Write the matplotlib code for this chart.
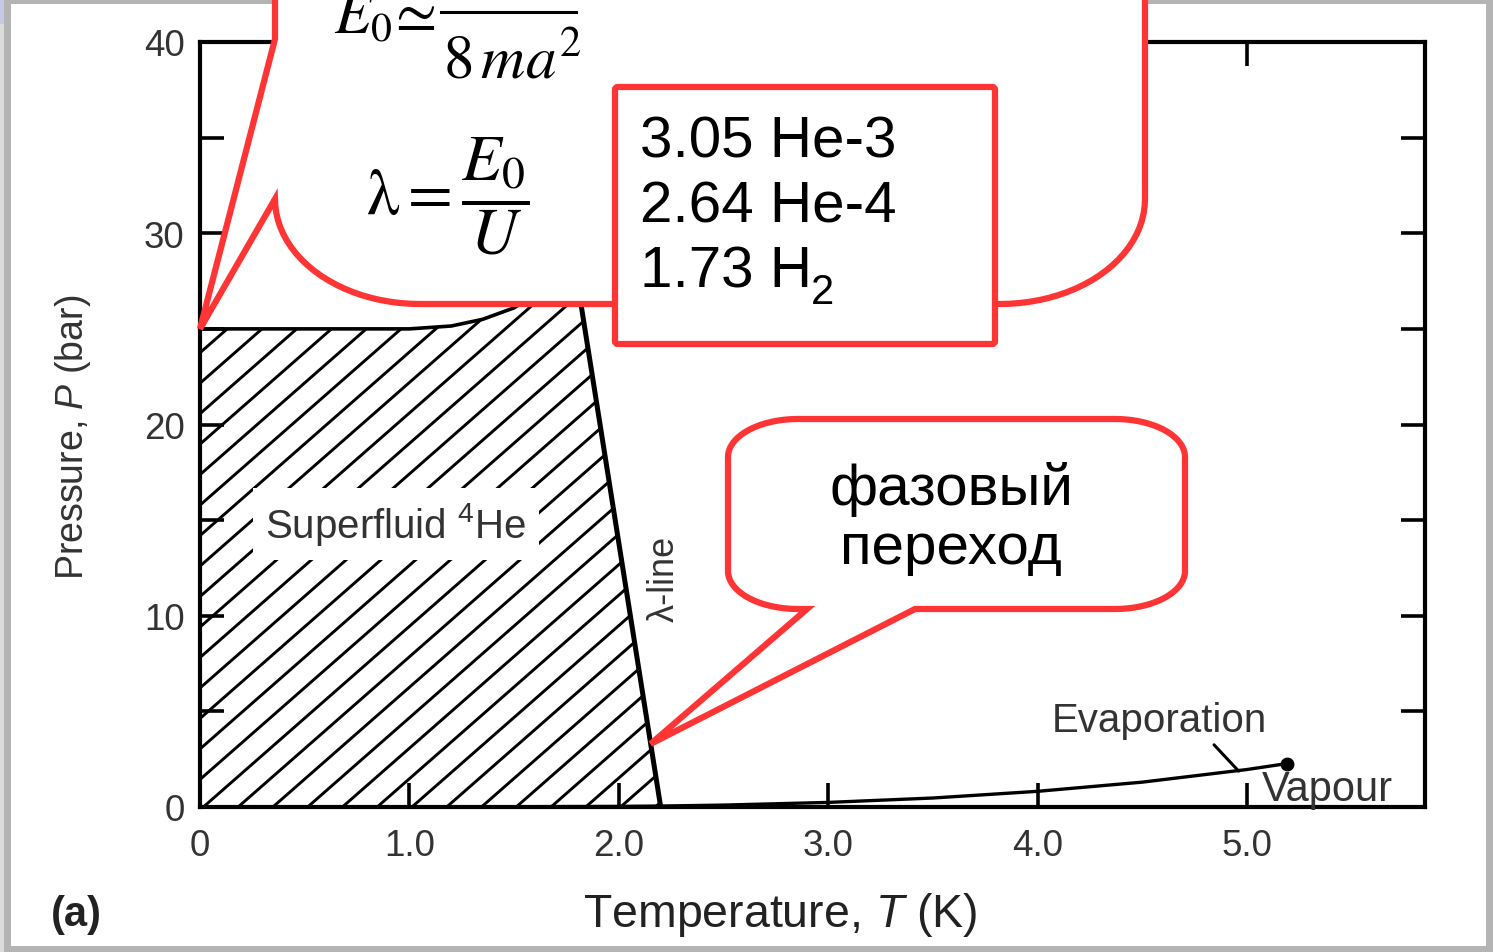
import numpy as np
import matplotlib
matplotlib.use("Agg")
import matplotlib.pyplot as plt
import matplotlib.transforms as mtransforms
from matplotlib.path import Path
from matplotlib.lines import Line2D
from matplotlib.patches import PathPatch, Polygon, Rectangle, FancyBboxPatch
from matplotlib.collections import LineCollection

plt.rcParams['font.family'] = ['Liberation Sans', 'DejaVu Sans']
plt.rcParams['mathtext.fontset'] = 'custom'
plt.rcParams['mathtext.rm'] = 'Liberation Sans'
plt.rcParams['mathtext.it'] = 'Liberation Sans:italic'
plt.rcParams['mathtext.bf'] = 'Liberation Sans:bold'

# phase boundaries of 4He (T in K, P in bar)
melt_T = np.array([0.0, 0.5, 1.0, 1.2, 1.35, 1.5, 1.6, 1.7, 1.77])
melt_P = np.array([25.0, 25.0, 25.0, 25.15, 25.5, 26.1, 26.8, 28.0, 29.7])
lambda_T = np.array([2.20, 1.77])
lambda_P = np.array([0.0, 29.7])
svp_T = np.array([0.0, 1.0, 2.0, 2.2, 2.5, 3.0, 3.5, 4.0, 4.5, 5.0, 5.19])
svp_P = np.array([0.0, 0.0, 0.03, 0.05, 0.1, 0.24, 0.47, 0.82, 1.3, 1.96, 2.27])
crit_T, crit_P = 5.19, 2.27

x_ticks = [0, 1, 2, 3, 4, 5]
x_ticklabels = ['0', '1.0', '2.0', '3.0', '4.0', '5.0']
y_ticks = [0, 5, 10, 15, 20, 25, 30, 35, 40]
y_ticklabels = ['0', '', '10', '', '20', '', '30', '', '40']

lambda_ratios = ['3.05 He-3', '2.64 He-4', '1.73 H']

RED = '#ff3535'
W, H = 1493, 953
fig = plt.figure(figsize=(W / 100, H / 100), dpi=100)
# pixel coordinates, origin top-left
px = mtransforms.Affine2D().scale(1 / W, -1 / H).translate(0, 1) + fig.transFigure

ax = fig.add_axes([200 / W, 1 - 808 / H, 1225 / W, 765 / H])
ax.set_xlim(0, 5.85)
ax.set_ylim(0, 40)

# superfluid region: bounded by lambda line and melting curve
region = np.column_stack([np.r_[0.0, lambda_T, melt_T[::-1]],
                          np.r_[0.0, lambda_P, melt_P[::-1]]])
poly = Polygon(region, closed=True, fc='white', ec='none')
ax.add_patch(poly)

# diagonal hatching clipped to the region
k = 9.6
segs = [[(t0, 0), (t0 + 40 / k, 40)] for t0 in np.arange(-4.3, 2.4, 0.166)]
lc = LineCollection(segs, colors='black', linewidths=2.1)
ax.add_collection(lc, autolim=False)
lc.set_clip_path(poly)

ax.plot(lambda_T, lambda_P, color='black', lw=3.6)
ax.plot(melt_T, melt_P, color='black', lw=2.6)
ax.plot(svp_T, svp_P, color='black', lw=2.4)
ax.plot(crit_T, crit_P, 'o', color='black', ms=9)

ax.set_xticks(x_ticks)
ax.set_xticklabels(x_ticklabels)
ax.set_yticks(y_ticks)
ax.set_yticklabels(y_ticklabels)
ax.tick_params(direction='in', length=17, width=2.6, top=True, right=True,
               labelsize=26.5, labelcolor='#333333')
ax.tick_params(axis='x', pad=15)
ax.tick_params(axis='y', pad=11)
for s in ax.spines.values():
    s.set_linewidth(3.0)

ax.text(0.936, 14.8, 'Superfluid $^{4}$He', ha='center', va='center', fontsize=29,
        color='#333333', bbox=dict(boxstyle='square,pad=0.3', fc='white', ec='none'))
ax.text(2.215, 12.0, 'λ-line', rotation=90, ha='center', va='center', fontsize=26,
        color='#333333')
ax.annotate('Evaporation', xy=(4.96, 1.88), xytext=(4.58, 4.55), ha='center', va='center',
            fontsize=29, color='#333333',
            arrowprops=dict(arrowstyle='-', lw=2.2, color='black', relpos=(0.73, 0.0),
                            shrinkA=3, shrinkB=0))
ax.text(5.385, 0.94, 'Vapour', ha='center', va='center', fontsize=30, color='#333333')

fig.text(73, 437, 'Pressure, $\\mathit{P}$ (bar)', rotation=90, ha='center', va='center',
         fontsize=27, color='#333333', transform=px)
fig.text(780, 915, 'Temperature, $\\mathit{T}$ (K)', ha='center', va='center',
         fontsize=33.5, color='#222222', transform=px)
fig.text(76, 915, '(a)', ha='center', va='center', fontsize=30, weight='bold',
         color='#222222', transform=px)

# slide frame
for (x, y, w, h, c) in [(0, 0, W, 5, '#b4b4b4'), (0, 947, W, 6, '#b4b4b4'),
                        (0, 0, 11, H, '#b4b4b4'), (0, 0, 4, H, '#dcdcdc'),
                        (0, 0, 4, 25, '#c6c9e6'), (1486, 0, 7, H, '#b4b4b4')]:
    fig.add_artist(Rectangle((x, y), w, h, fc=c, ec='none', transform=px, zorder=0.5))


def data_px(t, p):
    x, y = ax.transData.transform((t, p))
    return x, H - y


def arc(cx, cy, rx, ry, a0, a1, n=24):
    a = np.radians(np.linspace(a0, a1, n))
    return list(zip(cx + rx * np.cos(a), cy + ry * np.sin(a)))


def callout(x0, y0, x1, y1, rx, ry, left_wedge=None, bottom_wedge=None):
    # clockwise in pixel space; wedge = (base_a, tip, base_b) in traversal order
    v = []
    v += arc(x1 - rx, y0 + ry, rx, ry, -90, 0)
    v += arc(x1 - rx, y1 - ry, rx, ry, 0, 90)
    if bottom_wedge:
        v += bottom_wedge
    v += arc(x0 + rx, y1 - ry, rx, ry, 90, 180)
    if left_wedge:
        v += left_wedge
    v += arc(x0 + rx, y0 + ry, rx, ry, 180, 270)
    v.append(v[0])
    codes = [Path.MOVETO] + [Path.LINETO] * (len(v) - 2) + [Path.CLOSEPOLY]
    return Path(v, codes)


fig.canvas.draw()

# formula bubble pointing at the melting pressure at T = 0
tip1 = data_px(melt_T[0], melt_P[0])
p1 = callout(275, -400, 1145, 305, 145, 105,
             left_wedge=[(275, 200), tip1, (275, 40)])
fig.add_artist(PathPatch(p1, fc='white', ec=RED, lw=4.5, joinstyle='miter',
                         transform=px, zorder=10))
fig.text(334, 33, r'$E_0\!\simeq$', ha='left', va='baseline',
         fontsize=43, math_fontfamily='stix', transform=px, zorder=12)
fig.add_artist(Line2D([441, 576], [13, 13], color='black', lw=2.2, transform=px, zorder=12))
fig.text(443, 78, r'$8\,ma^{2}$', ha='left', va='baseline',
         fontsize=44, math_fontfamily='stix', transform=px, zorder=12)
fig.text(366, 196, r'$\mathrm{λ}=\dfrac{E_0}{U}$', ha='left', va='center',
         fontsize=47, math_fontfamily='stix', transform=px, zorder=12)

# box with lambda values
fig.add_artist(FancyBboxPatch((615, 88), 380, 257, boxstyle='round,pad=0,rounding_size=3',
                              fc='white', ec=RED, lw=4.5, transform=px, zorder=11))
for i, s in enumerate(lambda_ratios):
    fig.text(640, 157 + 65.5 * i, s, ha='left', va='baseline', fontsize=42,
             transform=px, zorder=12)
fig.text(811, 304, '2', ha='left', va='baseline', fontsize=30, transform=px, zorder=12)

# phase transition bubble pointing at the lambda line
p_tip = 3.3
tip2 = data_px(np.interp(p_tip, lambda_P, lambda_T), p_tip)
p2 = callout(728, 420, 1185, 610, 70, 38,
             bottom_wedge=[(915, 610), tip2, (807, 610)])
fig.add_artist(PathPatch(p2, fc='white', ec=RED, lw=4.5, joinstyle='miter',
                         transform=px, zorder=10))
fig.text(951, 519, 'фазовый\nпереход', ha='center', va='center', fontsize=42,
         linespacing=1.14, multialignment='center', transform=px, zorder=12)

fig.savefig('out.png', dpi=100)
